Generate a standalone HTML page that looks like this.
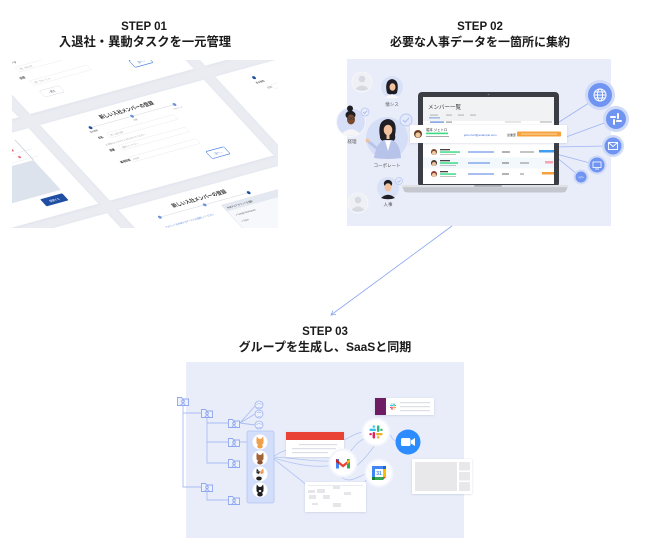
<!DOCTYPE html>
<html><head><meta charset="utf-8">
<style>
html,body{margin:0;padding:0;background:#fff;}
svg{display:block;}
.t{font-family:"Liberation Sans","Noto Sans CJK JP",sans-serif;font-weight:bold;fill:#1a1a1a;text-anchor:middle;}
.s{font-family:"Liberation Sans","Noto Sans CJK JP",sans-serif;}
</style></head><body>
<svg width="650" height="557" viewBox="0 0 650 557" xmlns="http://www.w3.org/2000/svg">
<defs>
<clipPath id="c1"><rect x="12" y="60" width="266" height="168"/></clipPath>
<filter id="sh" x="-10%" y="-10%" width="120%" height="120%"><feDropShadow dx="0" dy="0.5" stdDeviation="1.4" flood-color="#7080a8" flood-opacity="0.14"/></filter>
<filter id="sh2" x="-20%" y="-20%" width="140%" height="140%"><feDropShadow dx="0" dy="0.5" stdDeviation="1" flood-color="#6070a0" flood-opacity="0.25"/></filter>
</defs>

<!-- TITLES -->
<text class="t" x="144" y="30" font-size="11.5">STEP 01</text>
<text class="t" x="145" y="46" font-size="12.3">入退社・異動タスクを一元管理</text>
<text class="t" x="480" y="30" font-size="11.5">STEP 02</text>
<text class="t" x="480" y="46" font-size="12">必要な人事データを一箇所に集約</text>
<text class="t" x="325" y="335" font-size="11.5">STEP 03</text>
<text class="t" x="325" y="351" font-size="12">グループを生成し、SaaSと同期</text>

<!-- STEP 01 -->
<g clip-path="url(#c1)">
<rect x="12" y="60" width="266" height="168" fill="#eaecf2"/>
<g transform="matrix(0.815,-0.225,0.72,0.78,40,125)">
 <g fill="#fff" filter="url(#sh)">
  <rect x="-400" y="-300" width="386" height="286"/>
  <rect x="0" y="-300" width="201" height="286"/>
  <rect x="215" y="-300" width="300" height="286"/>
  <rect x="-400" y="0" width="386" height="97"/>
  <rect x="0" y="0" width="201" height="97"/>
  <rect x="215" y="0" width="300" height="97"/>
  <rect x="-400" y="109" width="386" height="300"/>
  <rect x="0" y="109" width="201" height="300"/>
  <rect x="215" y="109" width="300" height="300"/>
 </g>
 <!-- upper card content -->
 <g class="s" font-size="3.2" fill="#555">
  <text x="18" y="-70" font-weight="bold">部署コード</text>
  <rect x="28" y="-66" width="70" height="6" fill="none" stroke="#e6e8ee" stroke-width="0.4"/>
  <text x="31" y="-61.8" font-size="2.6" fill="#aaa">例）ABC123</text>
  <text x="22" y="-52" font-weight="bold">役職</text>
  <rect x="30" y="-48" width="70" height="6" fill="none" stroke="#e6e8ee" stroke-width="0.4"/>
  <text x="33" y="-43.8" font-size="2.6" fill="#aaa">例）マネージャー</text>
  <rect x="30" y="-35" width="24" height="8" rx="1.5" fill="#fff" stroke="#d9dce4" stroke-width="0.5"/>
  <text x="42" y="-29.8" font-size="3" text-anchor="middle">‹ 戻る</text>
  <rect x="145" y="-41" width="22" height="9" rx="1.5" fill="#fff" stroke="#4f86e0" stroke-width="0.7"/>
  <text x="156" y="-35" font-size="3.4" fill="#4f86e0" text-anchor="middle">次へ ›</text>
 </g>
 <!-- main card content -->
 <g class="s" fill="#333">
  <text x="98" y="11" font-size="5.5" font-weight="bold" text-anchor="middle">新しい入社メンバーの登録</text>
  <line x1="47" y1="17" x2="150" y2="17" stroke="#d5d9e0" stroke-width="0.6"/>
  <circle cx="47" cy="17" r="1.8" fill="#1b4ea0"/>
  <circle cx="98" cy="17" r="1.8" fill="#6f93d8"/>
  <circle cx="150" cy="17" r="1.8" fill="#6f93d8"/>
  <text x="47" y="22.5" font-size="2.4" text-anchor="middle" fill="#666">基本情報</text>
  <text x="98" y="22.5" font-size="2.4" text-anchor="middle" fill="#999">所属</text>
  <text x="150" y="22.5" font-size="2.4" text-anchor="middle" fill="#999">アカウント</text>
  <text x="45" y="31" font-size="3" font-weight="bold">氏名</text>
  <rect x="58" y="27" width="82" height="6" fill="none" stroke="#e5e7ec" stroke-width="0.4"/>
  <text x="60" y="31.2" font-size="2.4" fill="#aaa">例）山田 太郎</text>
  <text x="46" y="40" font-size="2.4" fill="#999">入社時のメールアドレスを入力してください</text>
  <text x="45" y="47" font-size="3" font-weight="bold">部署</text>
  <rect x="58" y="43" width="82" height="6" fill="none" stroke="#e5e7ec" stroke-width="0.4"/>
  <text x="60" y="47.2" font-size="2.4" fill="#aaa">選択してください</text>
  <text x="45" y="62" font-size="3" font-weight="bold">雇用形態</text>
  <rect x="58" y="58" width="82" height="6" fill="none" stroke="#e5e7ec" stroke-width="0.4"/>
  <text x="60" y="62.2" font-size="2.4" fill="#aaa">正社員</text>
  <rect x="138" y="74" width="22" height="9" rx="1.5" fill="#fff" stroke="#4f86e0" stroke-width="0.7"/>
  <text x="149" y="80" font-size="3.4" fill="#4f86e0" text-anchor="middle">次へ ›</text>
 </g>
 <!-- right card content -->
 <g class="s">
  <circle cx="252" cy="12" r="1.8" fill="#1b4ea0"/>
  <text x="249" y="19" font-size="2.6" fill="#444">基本情報</text>
  <text x="256" y="27" font-size="2.6" fill="#666">氏名</text>
  <rect x="262" y="24" width="60" height="5" fill="none" stroke="#e5e7ec" stroke-width="0.4"/>
 </g>
 <!-- left card content -->
 <g class="s">
  <line x1="-200" y1="22" x2="-30" y2="22" stroke="#e3e6ec" stroke-width="0.5"/>
  <line x1="-200" y1="31" x2="-30" y2="31" stroke="#e3e6ec" stroke-width="0.5"/>
  <circle cx="-50" cy="18" r="1.4" fill="#f0657a"/>
  <circle cx="-49" cy="27" r="1.4" fill="#f0657a"/>
  <rect x="-200" y="34" width="162" height="38" fill="#dde3ec"/>
  <line x1="-38" y1="8" x2="-38" y2="34" stroke="#b9bfca" stroke-width="0.8"/>
  <rect x="-67" y="76" width="27" height="9" rx="1" fill="#1f4ea3"/>
  <text x="-53.5" y="81.8" font-size="3" fill="#fff" text-anchor="middle">登録する</text>
 </g>
 <!-- lower card content -->
 <g class="s">
  <text x="89" y="122" font-size="5.5" font-weight="bold" text-anchor="middle" fill="#333">新しい入社メンバーの登録</text>
  <line x1="34" y1="128" x2="143" y2="128" stroke="#d5d9e0" stroke-width="0.6"/>
  <circle cx="34" cy="128" r="1.8" fill="#6f93d8"/>
  <circle cx="89" cy="128" r="1.8" fill="#6f93d8"/>
  <circle cx="143" cy="128" r="1.8" fill="#1b4ea0"/>
  <text x="30" y="141" font-size="2.6" fill="#5a86d8">アカウントを作成するサービスを選択してください</text>
  <rect x="105" y="133" width="80" height="50" fill="#f7f8fb" stroke="#d6dbe6" stroke-width="0.5"/>
  <rect x="105" y="133" width="80" height="8" fill="#e4e8f1"/>
  <text x="108" y="138.5" font-size="2.6" fill="#444">作成するアカウントを選択</text>
  <circle cx="179" cy="137" r="1.3" fill="#f0657a"/>
  <text x="110" y="148" font-size="2.6" fill="#666">✓ Google Workspace</text>
  <text x="110" y="156" font-size="2.6" fill="#666">✓ Slack</text>
 </g>
</g>
</g>

<!-- STEP 02 -->
<rect x="347" y="59" width="264" height="167" fill="#e9edf9"/>
<g stroke="#9db4f4" stroke-width="0.8">
 <line x1="556" y1="124" x2="592" y2="101"/>
 <line x1="566" y1="137" x2="607" y2="122"/>
 <line x1="556" y1="147" x2="605" y2="146"/>
 <line x1="556" y1="154" x2="590" y2="163"/>
 <line x1="556" y1="157" x2="577" y2="174"/>
</g>
<circle cx="600" cy="95" r="15" fill="#cfdaf9"/>
<circle cx="600" cy="95" r="12" fill="#6f94f1"/>
<g stroke="#fff" stroke-width="1" fill="none"><circle cx="600" cy="95" r="6"/><ellipse cx="600" cy="95" rx="2.6" ry="6"/><line x1="594" y1="95" x2="606" y2="95"/><path d="M595,92 H605 M595,98 H605"/></g>
<circle cx="616" cy="119" r="13" fill="#cfdaf9"/>
<circle cx="616" cy="119" r="10" fill="#6f94f1"/>
<g fill="#fff"><rect x="610" y="116" width="6" height="2" rx="1"/><rect x="617" y="113" width="2" height="6" rx="1"/><rect x="616" y="120" width="6" height="2" rx="1"/><rect x="613" y="119" width="2" height="6" rx="1"/></g>
<circle cx="613" cy="146" r="11" fill="#cfdaf9"/>
<circle cx="613" cy="146" r="8.5" fill="#6f94f1"/>
<rect x="608.5" y="142.5" width="9" height="7" fill="none" stroke="#fff" stroke-width="0.9"/>
<path d="M608.5,142.5 L613,146.5 L617.5,142.5" fill="none" stroke="#fff" stroke-width="0.9"/>
<circle cx="597" cy="165" r="9.5" fill="#cfdaf9"/>
<circle cx="597" cy="165" r="7.5" fill="#6f94f1"/>
<rect x="593" y="162" width="8" height="5.5" fill="none" stroke="#fff" stroke-width="0.8"/>
<line x1="595" y1="169" x2="599" y2="169" stroke="#fff" stroke-width="0.8"/>
<circle cx="581" cy="177" r="7.5" fill="#cfdaf9"/>
<circle cx="581" cy="177" r="5.5" fill="#6f94f1"/>
<text class="s" x="581" y="178.6" font-size="4" fill="#fff" text-anchor="middle">&lt;/&gt;</text>

<!-- laptop -->
<rect x="418" y="92" width="141" height="95" rx="4" fill="#3a3d44"/>
<circle cx="488.5" cy="94.5" r="0.8" fill="#777"/>
<rect x="423" y="97" width="131" height="87" fill="#ffffff"/>
<rect x="423" y="97" width="131" height="24" fill="#f1f2f4"/>
<text class="s" x="428" y="109" font-size="5.5" fill="#333">メンバー一覧</text>
<g fill="#bbb"><rect x="430" y="114.5" width="8" height="1.2"/><rect x="446" y="114.5" width="6" height="1.2"/><rect x="458" y="114.5" width="6" height="1.2"/><rect x="470" y="114.5" width="6" height="1.2"/></g>
<rect x="429" y="117.5" width="11" height="0.8" fill="#5a86d8"/>
<rect x="430" y="121.5" width="14" height="1.2" fill="#5a86d8"/>
<rect x="446" y="121.5" width="6" height="1.2" fill="#999"/>
<rect x="505" y="121.5" width="16" height="1" fill="#ccc"/>
<rect x="540" y="121.5" width="12" height="1" fill="#aaa"/>
<rect x="423" y="157.5" width="131" height="11" fill="#f2f8fb"/>
<g>
 <circle cx="434" cy="152" r="3" fill="#7a4a2e"/><circle cx="434" cy="153" r="2" fill="#f0c9a0"/>
 <rect x="440" y="149" width="10" height="1.3" fill="#444"/><rect x="440" y="151.3" width="20" height="1.5" fill="#3ddc84"/><rect x="440" y="154" width="16" height="0.9" fill="#bbb"/>
 <rect x="468" y="151.5" width="26" height="1" fill="#4f7fe0"/><rect x="502" y="151.5" width="8" height="1" fill="#666"/><rect x="520" y="151.5" width="14" height="1" fill="#888"/>
 <rect x="539" y="150" width="15" height="2.5" fill="#3d9df0"/>
</g>
<g>
 <circle cx="434" cy="163" r="3" fill="#4a3a2e"/><circle cx="434" cy="164" r="2" fill="#e8c0a0"/>
 <rect x="440" y="160" width="10" height="1.3" fill="#444"/><rect x="440" y="162.3" width="18" height="1.5" fill="#3ddc84"/><rect x="440" y="165" width="16" height="0.9" fill="#bbb"/>
 <rect x="468" y="162.5" width="22" height="1" fill="#4f7fe0"/><rect x="502" y="162.5" width="7" height="1" fill="#666"/><rect x="520" y="162.5" width="9" height="1" fill="#888"/>
 <rect x="545" y="161" width="8" height="2.5" fill="#f7a5b5"/>
</g>
<g>
 <circle cx="434" cy="174" r="3" fill="#8a3a2e"/><circle cx="434" cy="175" r="2" fill="#f0c9a0"/>
 <rect x="440" y="171" width="8" height="1.3" fill="#444"/><rect x="440" y="173.3" width="16" height="1.5" fill="#3ddc84"/><rect x="440" y="176" width="16" height="0.9" fill="#bbb"/>
 <rect x="468" y="173.5" width="26" height="1" fill="#4f7fe0"/><rect x="502" y="173.5" width="7" height="1" fill="#666"/><rect x="520" y="173.5" width="4" height="1" fill="#888"/>
 <rect x="542" y="172" width="12" height="2.5" fill="#f5a13c"/>
</g>
<path d="M402,186 H568 L566,191 Q565,192.5 562,192.5 H408 Q405,192.5 404,191 Z" fill="#c4c7cd"/>
<rect x="402" y="185" width="166" height="2.2" fill="#dfe1e5"/>
<rect x="474" y="185" width="28" height="1.8" rx="0.9" fill="#a9adb4"/>
<rect x="410" y="125" width="157" height="18" fill="#fff" filter="url(#sh2)"/>
<circle cx="418" cy="134" r="4" fill="#6b3f22"/><circle cx="418" cy="135" r="2.6" fill="#f0c9a0"/>
<text class="s" x="426" y="131" font-size="3.4" fill="#333">堀本 ジェトロ</text>
<rect x="426" y="132.6" width="22" height="1.6" fill="#3ddc84"/>
<rect x="426" y="136" width="23" height="1" fill="#aaa"/>
<text class="s" x="464" y="136" font-size="3" fill="#3a6fd8">jetro.hori@example.com</text>
<text class="s" x="507" y="136" font-size="3" fill="#444">営業部</text>
<rect x="517" y="131.5" width="44" height="5" rx="0.8" fill="#f5a13c"/>
<rect x="521" y="133.6" width="36" height="0.8" fill="#fde2bc"/>

<!-- persons -->
<circle cx="362" cy="82" r="10" fill="#eef0f5" stroke="#f7f8fb" stroke-width="0.8"/>
<circle cx="362" cy="79" r="3.3" fill="#d6d9df"/>
<path d="M355.5,89 Q362,82 368.5,89 Q362,92.5 355.5,89Z" fill="#d6d9df"/>

<circle cx="392" cy="87" r="11" fill="#d9e1f7"/>
<path d="M387,93 Q384,80 392,79 Q400,80 397,93 Q395,95 392,94 Q389,95 387,93Z" fill="#1e1e24"/>
<ellipse cx="392.5" cy="87" rx="3" ry="3.8" fill="#f2c29c"/>
<path d="M385.5,97.5 Q392,91.5 398.5,97.5 Q392,99.5 385.5,97.5Z" fill="#f8f8f8"/>
<text class="s" x="392" y="106" font-size="4.5" text-anchor="middle" fill="#555">情シス</text>

<circle cx="351" cy="122" r="14.5" fill="#d6dff7" stroke="#f4f6fc" stroke-width="1"/>
<circle cx="350" cy="108.5" r="3" fill="#1e1e24"/>
<ellipse cx="350.5" cy="115" rx="5" ry="4.2" fill="#1e1e24"/>
<ellipse cx="351" cy="119.5" rx="4" ry="5" fill="#7a4a2e"/>
<g fill="none" stroke="#333" stroke-width="0.5"><circle cx="349.3" cy="118.5" r="1.3"/><circle cx="352.8" cy="118.5" r="1.3"/></g>
<path d="M341.5,134 Q351,124.5 360.5,134 Q351,137.5 341.5,134Z" fill="#f5f5f5"/>
<text class="s" x="352" y="143" font-size="4.5" text-anchor="middle" fill="#555">経理</text>
<circle cx="365" cy="112" r="4" fill="#e9edf9" stroke="#b8c8f3" stroke-width="0.8"/>
<path d="M363,112 L364.5,113.5 L367.2,110.6" fill="none" stroke="#9db4f4" stroke-width="0.8"/>

<circle cx="387" cy="138" r="21" fill="#d5def7"/>
<path d="M380,137 Q377,120 388,119 Q398,120 395,135 Q396,140 393,141 L383,141 Q380,140 380,137Z" fill="#1e1e24"/>
<ellipse cx="388" cy="130" rx="4.3" ry="5.3" fill="#f2c29c"/>
<rect x="386.5" y="134" width="3" height="5" fill="#f2c29c"/>
<path d="M374,158 Q376,143 384,140 L392,140 Q400,143 401,158 Q388,160 374,158Z" fill="#b8c3ea"/>
<path d="M385,140.5 L388,151 L391,140.5Z" fill="#fff"/>
<line x1="379" y1="150" x2="369" y2="142" stroke="#b8c3ea" stroke-width="3" stroke-linecap="round"/>
<circle cx="367.5" cy="140.5" r="1.9" fill="#f2c29c"/>
<text class="s" x="387" y="167" font-size="4.5" text-anchor="middle" fill="#555">コーポレート</text>
<circle cx="406" cy="120" r="6" fill="#e4eaf9" stroke="#b8c8f3" stroke-width="0.9"/>
<path d="M403,120 L405.2,122.2 L409,118" fill="none" stroke="#a7bcf4" stroke-width="1"/>

<circle cx="388" cy="188" r="11" fill="#d9e1f7"/>
<ellipse cx="388" cy="183.5" rx="4.2" ry="3.6" fill="#1e1e24"/>
<ellipse cx="388" cy="187.3" rx="3.4" ry="4.1" fill="#f2c29c"/>
<path d="M381,198 Q388,191.5 395,198 Q388,200.5 381,198Z" fill="#1e1e24"/>
<text class="s" x="388" y="206" font-size="4.5" text-anchor="middle" fill="#555">人事</text>
<circle cx="399" cy="181" r="3.5" fill="#e4eaf9" stroke="#b8c8f3" stroke-width="0.7"/>
<path d="M397.5,181 L398.7,182.2 L400.7,180" fill="none" stroke="#a7bcf4" stroke-width="0.7"/>

<circle cx="358" cy="203" r="10" fill="#eef0f5" stroke="#f7f8fb" stroke-width="0.8"/>
<circle cx="358" cy="200" r="3.3" fill="#d6d9df"/>
<path d="M351.5,210 Q358,203 364.5,210 Q358,213.5 351.5,210Z" fill="#d6d9df"/>

<!-- ARROW -->
<line x1="452" y1="226" x2="331" y2="315" stroke="#8aa6f3" stroke-width="0.8"/>
<polyline points="336,314.4 331,315 333,310.4" fill="none" stroke="#8aa6f3" stroke-width="0.8"/>

<!-- STEP 03 -->
<rect x="186" y="362" width="278" height="176" fill="#e9edf9"/>
<g stroke="#a9bdf4" stroke-width="0.9" fill="none">
 <path d="M183,406 V487 H201 M183,413 H201"/>
 <path d="M207,418 V463 H228 M207,423 H228 M207,442 H228"/>
 <path d="M207,492 V500 H228"/>
 <path d="M240,423 L255,406 M240,423 L255,414 M240,423 L255,425"/>
 <path d="M240,442 H247"/>
</g>
<g stroke="#8ea7f2" stroke-width="0.9" fill="#edf1fb">
 <g transform="translate(177,396)"><path d="M0.5,1.5 H4.5 L5.5,3 H11.5 V9.5 H0.5 Z"/><circle cx="6" cy="5.3" r="1.3" fill="none"/><path d="M3.8,8.7 Q6,6.5 8.2,8.7" fill="none"/></g>
 <g transform="translate(201,408)"><path d="M0.5,1.5 H4.5 L5.5,3 H11.5 V9.5 H0.5 Z"/><circle cx="6" cy="5.3" r="1.3" fill="none"/><path d="M3.8,8.7 Q6,6.5 8.2,8.7" fill="none"/></g>
 <g transform="translate(228,418)"><path d="M0.5,1.5 H4.5 L5.5,3 H11.5 V9.5 H0.5 Z"/><circle cx="6" cy="5.3" r="1.3" fill="none"/><path d="M3.8,8.7 Q6,6.5 8.2,8.7" fill="none"/></g>
 <g transform="translate(228,437)"><path d="M0.5,1.5 H4.5 L5.5,3 H11.5 V9.5 H0.5 Z"/><circle cx="6" cy="5.3" r="1.3" fill="none"/><path d="M3.8,8.7 Q6,6.5 8.2,8.7" fill="none"/></g>
 <g transform="translate(228,458)"><path d="M0.5,1.5 H4.5 L5.5,3 H11.5 V9.5 H0.5 Z"/><circle cx="6" cy="5.3" r="1.3" fill="none"/><path d="M3.8,8.7 Q6,6.5 8.2,8.7" fill="none"/></g>
 <g transform="translate(201,482)"><path d="M0.5,1.5 H4.5 L5.5,3 H11.5 V9.5 H0.5 Z"/><circle cx="6" cy="5.3" r="1.3" fill="none"/><path d="M3.8,8.7 Q6,6.5 8.2,8.7" fill="none"/></g>
 <g transform="translate(228,495)"><path d="M0.5,1.5 H4.5 L5.5,3 H11.5 V9.5 H0.5 Z"/><circle cx="6" cy="5.3" r="1.3" fill="none"/><path d="M3.8,8.7 Q6,6.5 8.2,8.7" fill="none"/></g>
</g>
<g stroke="#9fb5f3" stroke-width="0.8" fill="#edf1fb">
 <circle cx="259" cy="405" r="4"/><circle cx="259" cy="414" r="4"/><circle cx="259" cy="425" r="4"/>
</g>
<g stroke="#9fb5f3" stroke-width="0.6" fill="none">
 <path d="M256.5,405 Q259,401.5 261.5,405 M256,407.5 H262"/>
 <path d="M257,413 Q259,411 261,413 M257.5,416 Q259,417 260.5,416"/>
 <path d="M256.5,425 Q259,421.5 261.5,425 M256,427.5 H262"/>
</g>

<g stroke="#b3c5f5" stroke-width="0.8" fill="none">
 <path d="M274,456 C284,450 290,449 300,447"/>
 <path d="M274,457 C295,458 315,462 332,461"/>
 <path d="M274,458 C300,466 318,468 334,465"/>
 <path d="M274,459 C288,470 298,478 308,486"/>
 <path d="M344,440 C352,436 356,433 363,432"/>
 <path d="M350,452 C356,444 360,440 366,438"/>
 <path d="M389,433 C392,438 393,440 396,441"/>
 <path d="M355,467 C362,462 370,452 375,445"/>
 <path d="M340,476 C350,485 358,476 366,474"/>
 <path d="M360,488 C364,484 366,480 368,478"/>
</g>

<rect x="247" y="431" width="27" height="72" rx="2" fill="#d3defa" stroke="#b2c5f5" stroke-width="0.8"/>
<g>
 <circle cx="260" cy="442" r="7.5" fill="#fff"/>
 <polygon points="256.3,441 256.8,436.5 259,439" fill="#f0a04b"/><polygon points="263.7,441 263.2,436.5 261,439" fill="#f0a04b"/>
 <ellipse cx="260" cy="442" rx="3.6" ry="3.3" fill="#f0a04b"/><ellipse cx="260" cy="446.5" rx="2.8" ry="2" fill="#f0a04b"/>
 <circle cx="260" cy="458" r="7.5" fill="#fff"/>
 <polygon points="256.3,457 256.8,452.5 259,455" fill="#a4643a"/><polygon points="263.7,457 263.2,452.5 261,455" fill="#a4643a"/>
 <ellipse cx="260" cy="458" rx="3.6" ry="3.3" fill="#a4643a"/><ellipse cx="260" cy="462.5" rx="2.8" ry="2" fill="#8a5030"/>
 <circle cx="260" cy="474" r="7.5" fill="#fff"/>
 <polygon points="256.3,473 256.8,468.5 259,471" fill="#222"/><polygon points="263.7,473 263.2,468.5 261,471" fill="#e8913a"/>
 <ellipse cx="260" cy="474" rx="3.6" ry="3.3" fill="#f4f4f4" stroke="#ddd" stroke-width="0.3"/><path d="M256.5,473 Q258,470.5 260,471.5 L259,474Z" fill="#222"/><path d="M263.5,473 Q262,470.5 260,471.5 L261,474Z" fill="#e8913a"/>
 <ellipse cx="259" cy="478.5" rx="2.8" ry="2" fill="#222"/>
 <circle cx="260" cy="490" r="7.5" fill="#fff"/>
 <polygon points="256.3,489 256.8,484.5 259,487" fill="#1e1e1e"/><polygon points="263.7,489 263.2,484.5 261,487" fill="#1e1e1e"/>
 <ellipse cx="260" cy="490" rx="3.6" ry="3.3" fill="#1e1e1e"/><ellipse cx="260" cy="494.5" rx="2.8" ry="2" fill="#1e1e1e"/><ellipse cx="260" cy="491" rx="1.3" ry="1" fill="#fff"/>
</g>

<rect x="286" y="432" width="58" height="25" fill="#fff" filter="url(#sh2)"/>
<rect x="286" y="432" width="58" height="8" fill="#e94335"/>
<g fill="#dcdfe6"><rect x="299" y="444" width="38" height="1.2"/><rect x="292" y="448" width="44" height="1.2"/><rect x="292" y="452" width="36" height="1.2"/></g>

<rect x="375" y="398" width="11" height="17" fill="#6e1f63" filter="url(#sh2)"/>
<rect x="386" y="398" width="48" height="17" fill="#fff" filter="url(#sh2)"/>
<g transform="translate(393,406.5) scale(0.45)">
 <rect x="-7" y="-3.6" width="7" height="2.6" rx="1.3" fill="#36C5F0"/><rect x="-3.6" y="-7" width="2.6" height="2.6" rx="1.3" fill="#36C5F0"/>
 <rect x="1" y="-7" width="2.6" height="7" rx="1.3" fill="#2EB67D"/><rect x="4.4" y="-3.6" width="2.6" height="2.6" rx="1.3" fill="#2EB67D"/>
 <rect x="0" y="1" width="7" height="2.6" rx="1.3" fill="#ECB22E"/><rect x="1" y="4.4" width="2.6" height="2.6" rx="1.3" fill="#ECB22E"/>
 <rect x="-3.6" y="0" width="2.6" height="7" rx="1.3" fill="#E01E5A"/><rect x="-7" y="1" width="2.6" height="2.6" rx="1.3" fill="#E01E5A"/>
</g>
<g fill="#dcdfe6"><rect x="400" y="402" width="30" height="1.2"/><rect x="400" y="406" width="30" height="1.2"/><rect x="400" y="410" width="30" height="1.2"/></g>

<rect x="305" y="482" width="61" height="30" fill="#fff" filter="url(#sh2)"/>
<g fill="#e4e6ea">
 <rect x="308" y="485" width="55" height="0.8"/>
 <rect x="308" y="490" width="7" height="3"/><rect x="317" y="489" width="8" height="4"/><rect x="333" y="486" width="7" height="3"/>
 <rect x="309" y="495" width="7" height="4"/><rect x="323" y="495" width="7" height="4"/><rect x="344" y="492" width="7" height="3"/>
 <rect x="333" y="503" width="8" height="4"/><rect x="312" y="503" width="6" height="2"/>
</g>

<rect x="412" y="459" width="60" height="35" fill="#fff" filter="url(#sh2)"/>
<rect x="415" y="462" width="42" height="29" fill="#e8e8ea"/>
<rect x="459" y="462" width="11" height="8.5" fill="#e8e8ea"/>
<rect x="459" y="472" width="11" height="8.5" fill="#e8e8ea"/>
<rect x="459" y="482" width="11" height="9" fill="#e8e8ea"/>

<circle cx="376" cy="432" r="14.5" fill="#f2f5fd"/>
<circle cx="376" cy="432" r="12.5" fill="#fff"/>
<g transform="translate(376,432) scale(0.95)">
 <rect x="-7" y="-3.6" width="7" height="2.6" rx="1.3" fill="#36C5F0"/><rect x="-3.6" y="-7" width="2.6" height="2.6" rx="1.3" fill="#36C5F0"/>
 <rect x="1" y="-7" width="2.6" height="7" rx="1.3" fill="#2EB67D"/><rect x="4.4" y="-3.6" width="2.6" height="2.6" rx="1.3" fill="#2EB67D"/>
 <rect x="0" y="1" width="7" height="2.6" rx="1.3" fill="#ECB22E"/><rect x="1" y="4.4" width="2.6" height="2.6" rx="1.3" fill="#ECB22E"/>
 <rect x="-3.6" y="0" width="2.6" height="7" rx="1.3" fill="#E01E5A"/><rect x="-7" y="1" width="2.6" height="2.6" rx="1.3" fill="#E01E5A"/>
</g>

<circle cx="408" cy="442" r="12.5" fill="#2d8cff"/>
<rect x="401" y="438" width="9.5" height="8" rx="1.8" fill="#fff"/>
<path d="M411,440.5 L415,438 V446 L411,443.5Z" fill="#fff"/>

<circle cx="343" cy="463" r="14.5" fill="#f2f5fd"/>
<circle cx="343" cy="463" r="12.5" fill="#fff"/>
<g transform="translate(343,463.5)">
 <rect x="-7" y="-4.5" width="3" height="9.5" fill="#4285F4"/>
 <rect x="4" y="-4.5" width="3" height="9.5" fill="#34A853"/>
 <path d="M-7,-4.5 L0,1 L7,-4.5 L7,-1.5 L0,4 L-7,-1.5Z" fill="#EA4335"/>
 <path d="M4,-2.2 L7,-4.5 L7,-1.5 L4,0.8Z" fill="#FBBC04"/>
 <path d="M-7,-4.5 L-4,-2.2 L-4,0.8 L-7,-1.5Z" fill="#C5221F"/>
</g>

<circle cx="379" cy="473" r="14.5" fill="#f2f5fd"/>
<circle cx="379" cy="473" r="12.5" fill="#fff"/>
<g transform="translate(379,473)">
 <rect x="-6.5" y="-6.5" width="13" height="13" fill="#fff"/>
 <rect x="-7" y="-7" width="11" height="3" fill="#4285F4"/>
 <rect x="-7" y="-7" width="3" height="11" fill="#4285F4"/>
 <rect x="-4" y="4" width="8" height="3" fill="#34A853"/>
 <rect x="4" y="-4" width="3" height="8" fill="#FBBC04"/>
 <path d="M4,4 H7 L4,7Z" fill="#EA4335"/>
 <rect x="-7" y="4" width="3" height="3" fill="#188038"/>
 <rect x="4" y="-7" width="3" height="3" fill="#1967D2"/>
 <text class="s" x="0" y="1.8" font-size="5" font-weight="bold" fill="#4285F4" text-anchor="middle">31</text>
</g>
</svg>
</body></html>
